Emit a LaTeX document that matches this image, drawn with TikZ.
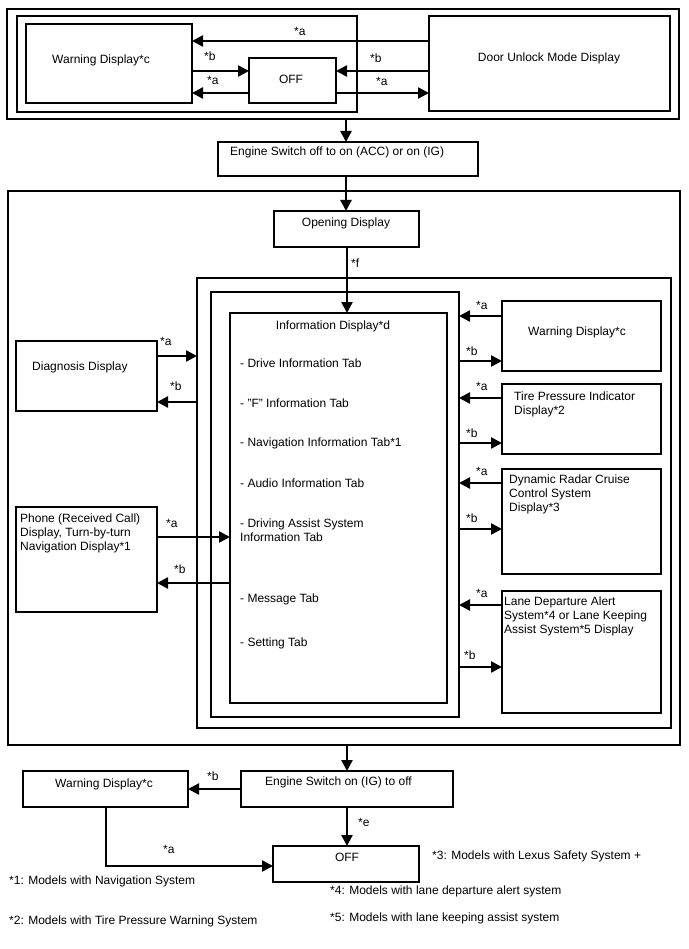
\documentclass[tikz,border=0pt]{standalone}
\usepackage{fontspec}
\setmainfont{Liberation Sans}
\usetikzlibrary{arrows.meta}
\begin{document}
\begin{tikzpicture}[x=1pt,y=-1pt,
  box/.style={draw, line width=1.5pt, anchor=north west, inner sep=0pt, outer sep=0pt},
  txt/.style={font=\fontsize{12}{14}\selectfont, inner sep=0pt, anchor=west, align=left},
  lab/.style={font=\fontsize{12}{14}\selectfont, inner sep=0pt, anchor=west},
  arr/.style={line width=2.4pt, -{Triangle[length=11pt,width=11pt]}},
  ln/.style={line width=2.4pt}]
\useasboundingbox (0,0) rectangle (688,949);
\fill[white] (0,0) rectangle (688,949);

% ---------- top group ----------
\node[box, minimum width=672, minimum height=110] (topouter) at (7,9) {};
\node[box, minimum width=340, minimum height=96] (topinner) at (17,16) {};
\node[box, minimum width=166, minimum height=79] (warn1) at (26,24) {};
\node[box, minimum width=87, minimum height=45] (off1) at (249,58) {};
\node[box, minimum width=241, minimum height=95] (door) at (429,16) {};
\node[txt] (warn1t) at (52,60) {Warning Display*c};
\node[txt, anchor=center] (off1t) at (291,79) {OFF};
\node[txt, anchor=center] (doort) at (549,58) {Door Unlock Mode Display};

\draw[arr] (door.west |- 0,41) -- (warn1.east |- 0,41);
\node[lab] (l1) at (294,31) {*a};
\draw[arr] (warn1.east |- 0,71) -- (off1.west |- 0,71);
\node[lab] (l2) at (204,56) {*b};
\draw[arr] (off1.west |- 0,93) -- (warn1.east |- 0,93);
\node[lab] (l3) at (207,80) {*a};
\draw[arr] (door.west |- 0,71) -- (off1.east |- 0,71);
\node[lab] (l4) at (370,58) {*b};
\draw[arr] (off1.east |- 0,93) -- (door.west |- 0,93);
\node[lab] (l5) at (376,81) {*a};

% ---------- engine switch ----------
\node[box, minimum width=260, minimum height=34] (eng1) at (218,142) {};
\node[txt] (eng1t) at (230,152) {Engine Switch off to on (ACC) or on (IG)};
\draw[arr] (topouter.south -| 346,0) -- (eng1.north -| 346,0);

% ---------- big group ----------
\node[box, minimum width=672, minimum height=554] (big) at (8,191) {};
\node[box, minimum width=145, minimum height=36] (open) at (274,211) {};
\node[txt, anchor=center] (opent) at (346,223) {Opening Display};
\draw[arr] (eng1.south -| 346,0) -- (open.north -| 346,0);

\node[box, minimum width=474, minimum height=450] (frameA) at (197,278) {};
\node[box, minimum width=248, minimum height=425] (frameB) at (211,292) {};
\node[box, minimum width=217, minimum height=390] (info) at (230,313) {};
\draw[arr] (open.south -| 347,0) -- (info.north -| 347,0);
\node[lab] (lf) at (351,263) {*f};

\node[txt, anchor=center] (infot) at (333,326) {Information Display*d};
\node[txt] (i1) at (240,363) {- Drive Information Tab};
\node[txt] (i2) at (240,403) {- "F" Information Tab};
\node[txt] (i3) at (240,443) {- Navigation Information Tab*1};
\node[txt] (i4) at (240,483) {- Audio Information Tab};
\node[txt] (i5) at (240,530) {- Driving Assist System\\Information Tab};
\node[txt] (i6) at (240,599) {- Message Tab};
\node[txt] (i7) at (240,643) {- Setting Tab};

% right boxes
\node[box, minimum width=159, minimum height=70] (warn2) at (502,301) {};
\node[txt, anchor=center] (warn2t) at (577,332) {Warning Display*c};
\node[box, minimum width=159, minimum height=70] (tire) at (502,384) {};
\node[txt] (tiret) at (514,404) {Tire Pressure Indicator\\Display*2};
\node[box, minimum width=159, minimum height=105] (dyn) at (502,469) {};
\node[txt] (dynt) at (509,494) {Dynamic Radar Cruise\\Control System\\Display*3};
\node[box, minimum width=159, minimum height=122] (lane) at (502,591) {};
\node[txt] (lanet) at (504,616) {Lane Departure Alert\\System*4 or Lane Keeping\\Assist System*5 Display};

\draw[arr] (warn2.west |- 0,316) -- (frameB.east |- 0,316);
\node[lab] (ra1) at (476,305) {*a};
\draw[arr] (frameB.east |- 0,361) -- (warn2.west |- 0,361);
\node[lab] (rb1) at (466,351) {*b};
\draw[arr] (tire.west |- 0,398) -- (frameB.east |- 0,398);
\node[lab] (ra2) at (476,386) {*a};
\draw[arr] (frameB.east |- 0,443) -- (tire.west |- 0,443);
\node[lab] (rb2) at (466,433) {*b};
\draw[arr] (dyn.west |- 0,483) -- (frameB.east |- 0,483);
\node[lab] (ra3) at (476,471) {*a};
\draw[arr] (frameB.east |- 0,529) -- (dyn.west |- 0,529);
\node[lab] (rb3) at (466,518) {*b};
\draw[arr] (lane.west |- 0,605) -- (frameB.east |- 0,605);
\node[lab] (ra4) at (476,593) {*a};
\draw[arr] (frameB.east |- 0,667) -- (lane.west |- 0,667);
\node[lab] (rb4) at (464,655) {*b};

% left boxes
\node[box, minimum width=141, minimum height=70] (diag) at (16,341) {};
\node[txt] (diagt) at (32,367) {Diagnosis Display};
\node[box, minimum width=141, minimum height=105] (phone) at (16,507) {};
\node[txt] (phonet) at (20,533) {Phone (Received Call)\\Display, Turn-by-turn\\Navigation Display*1};

\draw[arr] (diag.east |- 0,356) -- (frameA.west |- 0,356);
\node[lab] (la1) at (160,341) {*a};
\draw[arr] (frameA.west |- 0,402) -- (diag.east |- 0,402);
\node[lab] (lb1) at (170,386) {*b};
\draw[arr] (phone.east |- 0,537) -- (info.west |- 0,537);
\node[lab] (la2) at (166,523) {*a};
\draw[arr] (info.west |- 0,583) -- (phone.east |- 0,583);
\node[lab] (lb2) at (174,569) {*b};

% ---------- bottom ----------
\node[box, minimum width=212, minimum height=36] (eng2) at (241,771) {};
\node[txt] (eng2t) at (265,782) {Engine Switch on (IG) to off};
\draw[arr] (big.south -| 347,0) -- (eng2.north -| 347,0);
\node[box, minimum width=165, minimum height=36] (warn3) at (23,771) {};
\node[txt] (warn3t) at (55,784) {Warning Display*c};
\node[box, minimum width=146, minimum height=36] (off2) at (273,846) {};
\node[txt, anchor=center] (off2t) at (347,857) {OFF};
\draw[arr] (eng2.west |- 0,789) -- (warn3.east |- 0,789);
\node[lab] (bb) at (207,776) {*b};
\draw[arr] (eng2.south -| 347,0) -- (off2.north -| 347,0);
\node[lab] (be) at (358,822) {*e};
\draw[arr] (warn3.south -| 106,0) |- (off2.west |- 0,866);
\node[lab] (ba) at (163,849) {*a};

\node[txt] (n1) at (9,881) {*1: Models with Navigation System};
\node[txt] (n2) at (9,921) {*2: Models with Tire Pressure Warning System};
\node[txt] (n3) at (432,856) {*3: Models with Lexus Safety System +};
\node[txt] (n4) at (330,891) {*4: Models with lane departure alert system};
\node[txt] (n5) at (330,918) {*5: Models with lane keeping assist system};
\end{tikzpicture}
\end{document}
